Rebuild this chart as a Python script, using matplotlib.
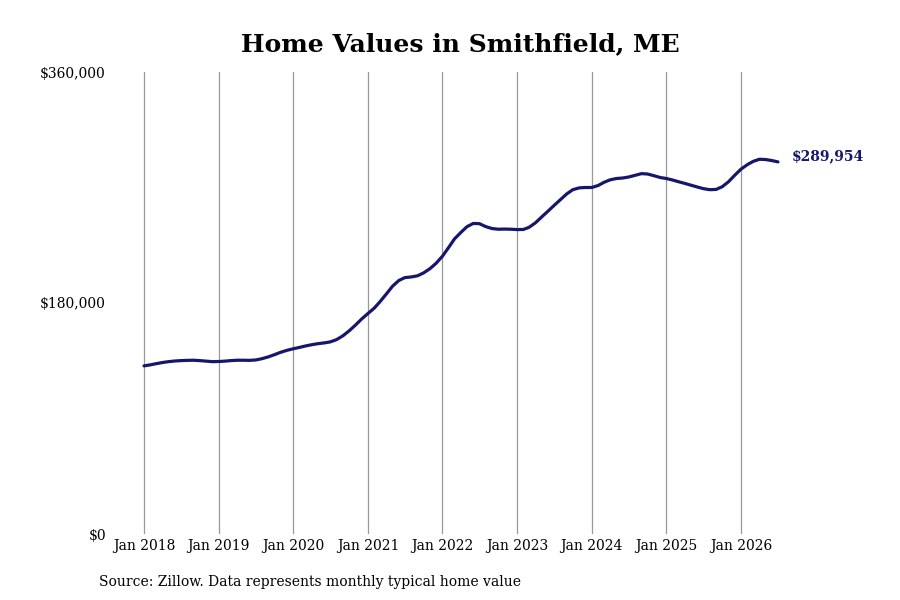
import matplotlib
matplotlib.use("Agg")
import matplotlib.pyplot as plt
import matplotlib.dates as mdates
import pandas as pd

# Typical home value, monthly, Jan 2018 - Jul 2026
values = [
    131000, 131800, 132700, 133600, 134300, 134800, 135100, 135300, 135400, 135100, 134700, 134300,
    134400, 134700, 135100, 135400, 135400, 135300, 135600, 136600, 138000, 139700, 141600, 143100,
    144300, 145400, 146500, 147500, 148300, 148900, 149700, 151500, 154500, 158300, 162800, 167500,
    171800, 176000, 181000, 187000, 193000, 197500, 199800, 200300, 201200, 203500, 206800, 211000,
    216500, 223500, 230000, 235000, 239500, 242000, 241800, 239500, 238000, 237500, 237600, 237500,
    237200, 237300, 239000, 242500, 247000, 251500, 256000, 260500, 265000, 268300, 269700, 270000,
    270000, 271500, 274000, 276000, 277000, 277400, 278200, 279500, 280800, 280500, 279200, 277800,
    277000, 275800, 274500, 273200, 271800, 270400, 269100, 268300, 268500, 270600, 274500, 279500,
    284300, 287800, 290300, 292000, 291800, 291000, 289954,
]
dates = pd.date_range("2018-01-01", periods=len(values), freq="MS")

tick_years = list(range(2018, 2027))
tick_labels = [f"Jan {y}" for y in tick_years]
y_ticks = [0, 180000, 360000]
y_labels = ["$0", "$180,000", "$360,000"]
end_label = "$289,954"

line_color = "#16166b"
plt.rcParams["font.family"] = "DejaVu Serif"

fig = plt.figure(figsize=(9, 6), dpi=100)
ax = fig.add_axes([0.13, 0.11, 0.75, 0.77])

ax.plot(dates, values, color=line_color, linewidth=2.3, solid_capstyle="round")

# x limits so Jan 2018 sits at 144px and Jan 2026 at 741px
d0 = mdates.date2num(pd.Timestamp("2018-01-01"))
d1 = mdates.date2num(pd.Timestamp("2026-01-01"))
px_per_day = (741 - 144) / (d1 - d0)
ax.set_xlim(d0 - 27 / px_per_day, d0 + (675 - 27) / px_per_day)
ax.set_ylim(0, 360000)

ax.set_xticks([pd.Timestamp(f"{y}-01-01") for y in tick_years])
ax.set_xticklabels(tick_labels, fontsize=10)
ax.set_yticks(y_ticks)
ax.set_yticklabels(y_labels, fontsize=10)
ax.tick_params(axis="x", length=0, pad=3.5)
ax.tick_params(axis="y", length=0, pad=8)
ax.grid(axis="x", color="#999999", linewidth=0.9)
ax.set_axisbelow(True)
for s in ax.spines.values():
    s.set_visible(False)

ax.annotate(end_label, xy=(dates[-1], values[-1]), xytext=(10, 4),
            textcoords="offset points", color=line_color, fontsize=10,
            fontweight="bold", va="center", ha="left")

fig.text(0.512, 0.927, "Home Values in Smithfield, ME", ha="center", va="center",
         fontsize=18, fontweight="bold")
fig.text(0.11, 0.03, "Source: Zillow. Data represents monthly typical home value",
         ha="left", va="center", fontsize=10)

fig.savefig("out.png", dpi=100)
